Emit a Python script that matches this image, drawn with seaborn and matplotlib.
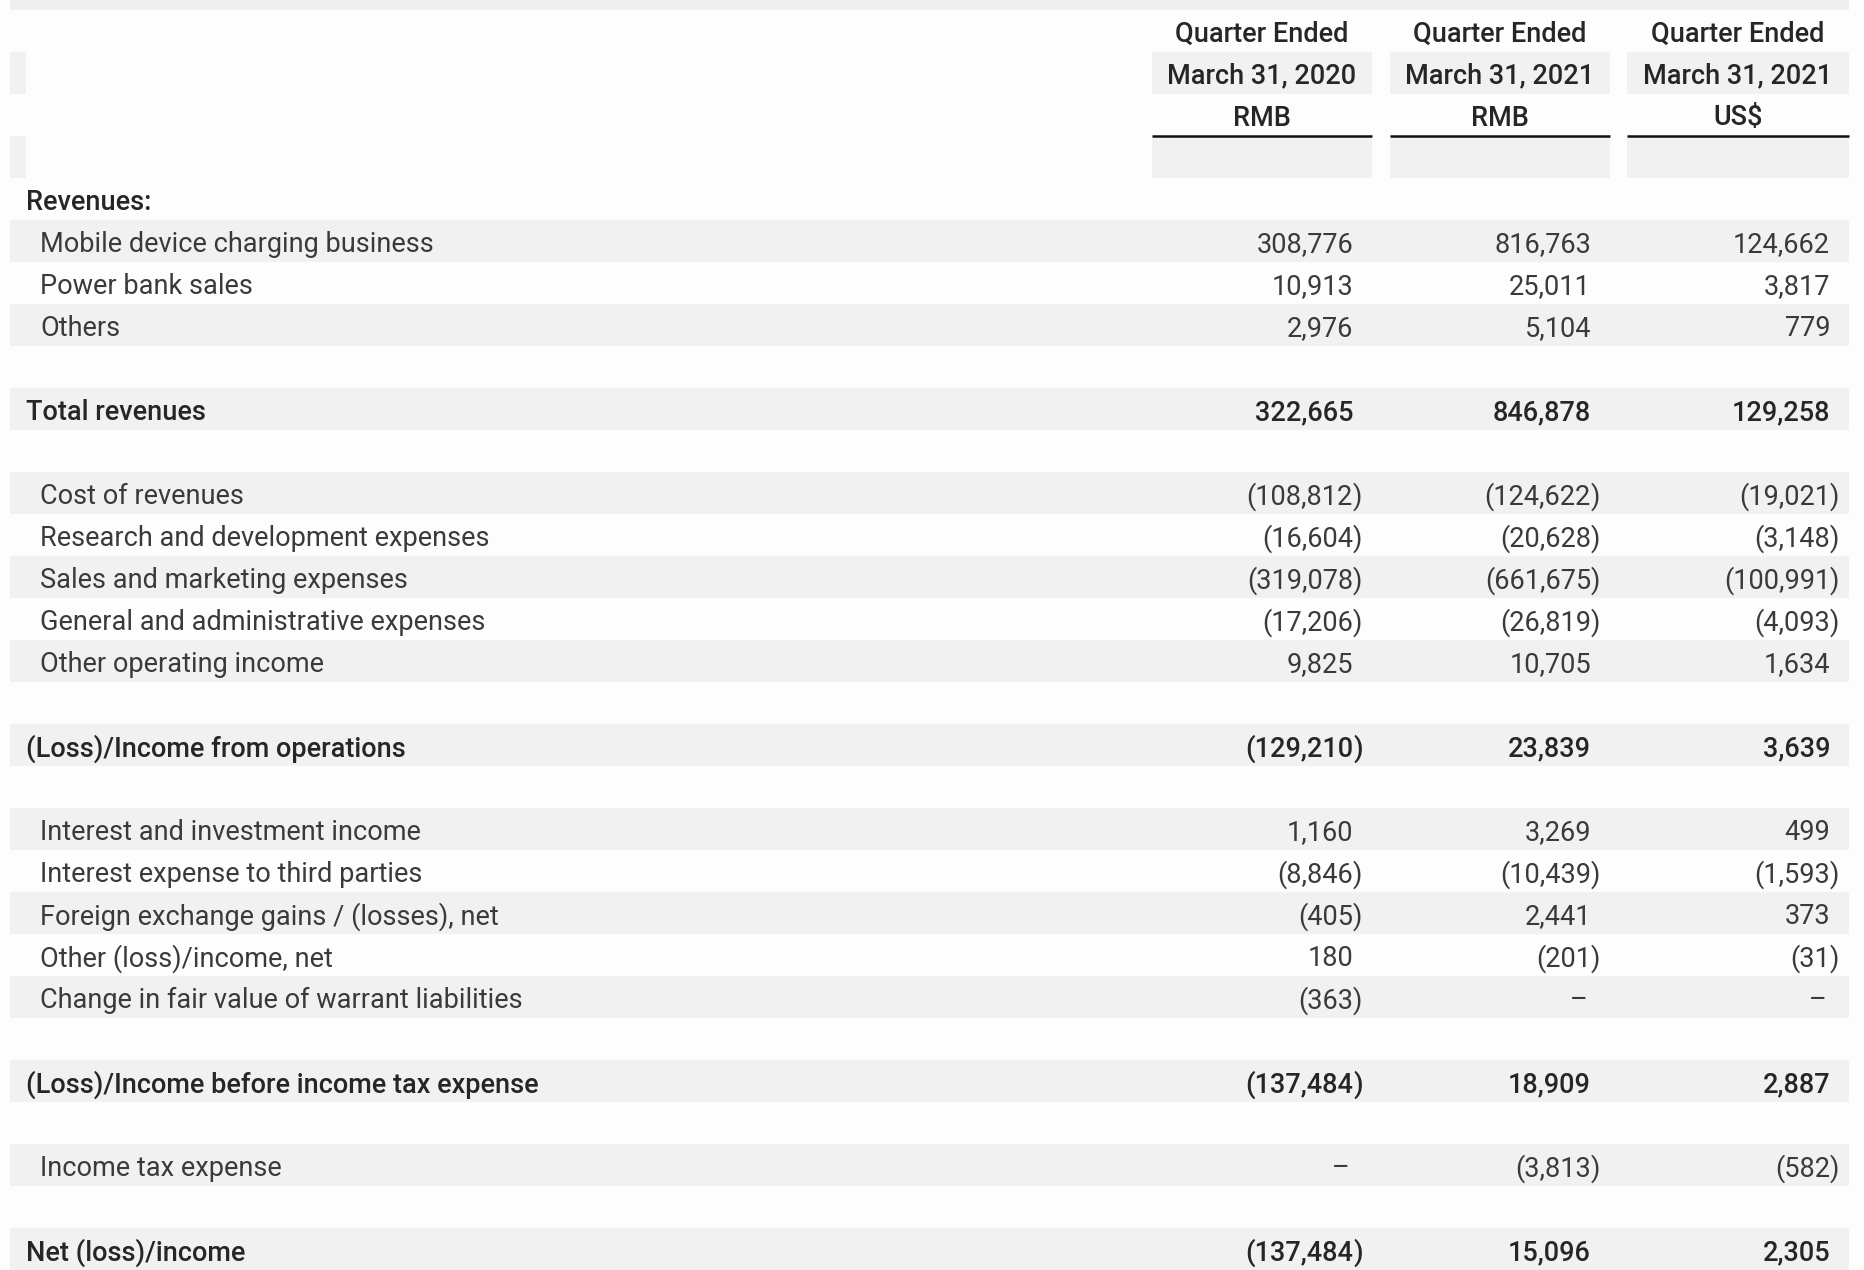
import matplotlib
matplotlib.use("Agg")
import matplotlib.pyplot as plt
import seaborn as sns

# column headers
col_top = ["Quarter Ended", "Quarter Ended", "Quarter Ended"]
col_date = ["March 31, 2020", "March 31, 2021", "March 31, 2021"]
col_currency = ["RMB", "RMB", "US$"]

# body rows (None = empty cell, 0 = shown as a dash)
row_labels = [
    "Revenues:",
    "Mobile device charging business",
    "Power bank sales",
    "Others",
    "",
    "Total revenues",
    "",
    "Cost of revenues",
    "Research and development expenses",
    "Sales and marketing expenses",
    "General and administrative expenses",
    "Other operating income",
    "",
    "(Loss)/Income from operations",
    "",
    "Interest and investment income",
    "Interest expense to third parties",
    "Foreign exchange gains / (losses), net",
    "Other (loss)/income, net",
    "Change in fair value of warrant liabilities",
    "",
    "(Loss)/Income before income tax expense",
    "",
    "Income tax expense",
    "",
    "Net (loss)/income",
]
row_kind = [
    "head", "item", "item", "item", "blank", "total", "blank",
    "item", "item", "item", "item", "item", "blank", "total", "blank",
    "item", "item", "item", "item", "item", "blank", "total", "blank",
    "item", "blank", "total",
]
q1_2020_rmb = [None, 308776, 10913, 2976, None, 322665, None,
               -108812, -16604, -319078, -17206, 9825, None, -129210, None,
               1160, -8846, -405, 180, -363, None, -137484, None,
               0, None, -137484]
q1_2021_rmb = [None, 816763, 25011, 5104, None, 846878, None,
               -124622, -20628, -661675, -26819, 10705, None, 23839, None,
               3269, -10439, 2441, -201, 0, None, 18909, None,
               -3813, None, 15096]
q1_2021_usd = [None, 124662, 3817, 779, None, 129258, None,
               -19021, -3148, -100991, -4093, 1634, None, 3639, None,
               499, -1593, 373, -31, 0, None, 2887, None,
               -582, None, 2305]

sns.set_theme(style="white")
plt.rcParams["font.family"] = ["Roboto", "DejaVu Sans"]

W, H = 1864, 1270
fig = plt.figure(figsize=(W / 100, H / 100), dpi=100)
fig.patch.set_facecolor("#fdfdfd")
ax = fig.add_axes([0, 0, 1, 1])
ax.set_xlim(0, W)
ax.set_ylim(H, 0)
ax.axis("off")

GRAY = "#f1f1f1"
TXT = "#3a3a3a"
BOLD_TXT = "#262626"
FS = 19.5

left, right = 9.5, 1849
top, rh = 9.5, 42.0
bands = [(1152, 1372), (1390, 1610), (1627, 1849)]
num_right = [b[1] - 19 for b in bands]

# top band
ax.add_patch(plt.Rectangle((left, 0), right - left, top, color="#efefef", lw=0))


def row_y(i):
    return top + rh * i


# header rows
for c in range(3):
    x0, x1 = bands[c]
    cx = (x0 + x1) / 2
    for r in (1, 3):
        ax.add_patch(plt.Rectangle((x0, row_y(r)), x1 - x0, rh, color=GRAY, lw=0))
    ax.plot([x0, x1], [row_y(3), row_y(3)], color="#111111", lw=1.8, solid_capstyle="butt")
    for r, txt in enumerate([col_top[c], col_date[c], col_currency[c]]):
        ax.text(cx, row_y(r) + rh / 2 + 3.5, txt, ha="center", va="center",
                fontsize=FS, color=BOLD_TXT, fontweight="medium")
for r in (1, 3):
    ax.add_patch(plt.Rectangle((left, row_y(r)), 16, rh, color=GRAY, lw=0))

columns = [q1_2020_rmb, q1_2021_rmb, q1_2021_usd]
for k, (label, kind) in enumerate(zip(row_labels, row_kind)):
    i = k + 4
    y0 = row_y(i)
    yc = y0 + rh / 2 + 4
    if i % 2 == 1:
        ax.add_patch(plt.Rectangle((left, y0), right - left, rh, color=GRAY, lw=0))
    if kind == "blank":
        continue
    bold = kind in ("head", "total")
    weight = "medium" if bold else "normal"
    color = BOLD_TXT if bold else TXT
    lx = 26 if bold else 40.5
    ax.text(lx, yc, label, ha="left", va="center", fontsize=FS,
            fontweight=weight, color=color)
    for c, col in enumerate(columns):
        v = col[k]
        if v is None:
            continue
        xr = num_right[c]
        if v == 0:
            ax.text(xr - 3, yc, "\u2013", ha="right", va="center",
                    fontsize=FS, fontweight=weight, color=color)
        elif v < 0:
            ax.text(xr, yc, "(" + f"{-v:,}", ha="right", va="center",
                    fontsize=FS, fontweight=weight, color=color)
            ax.text(xr, yc, ")", ha="left", va="center",
                    fontsize=FS, fontweight=weight, color=color)
        else:
            ax.text(xr, yc, f"{v:,}", ha="right", va="center",
                    fontsize=FS, fontweight=weight, color=color)

fig.savefig("out.png", dpi=100, facecolor=fig.get_facecolor())
